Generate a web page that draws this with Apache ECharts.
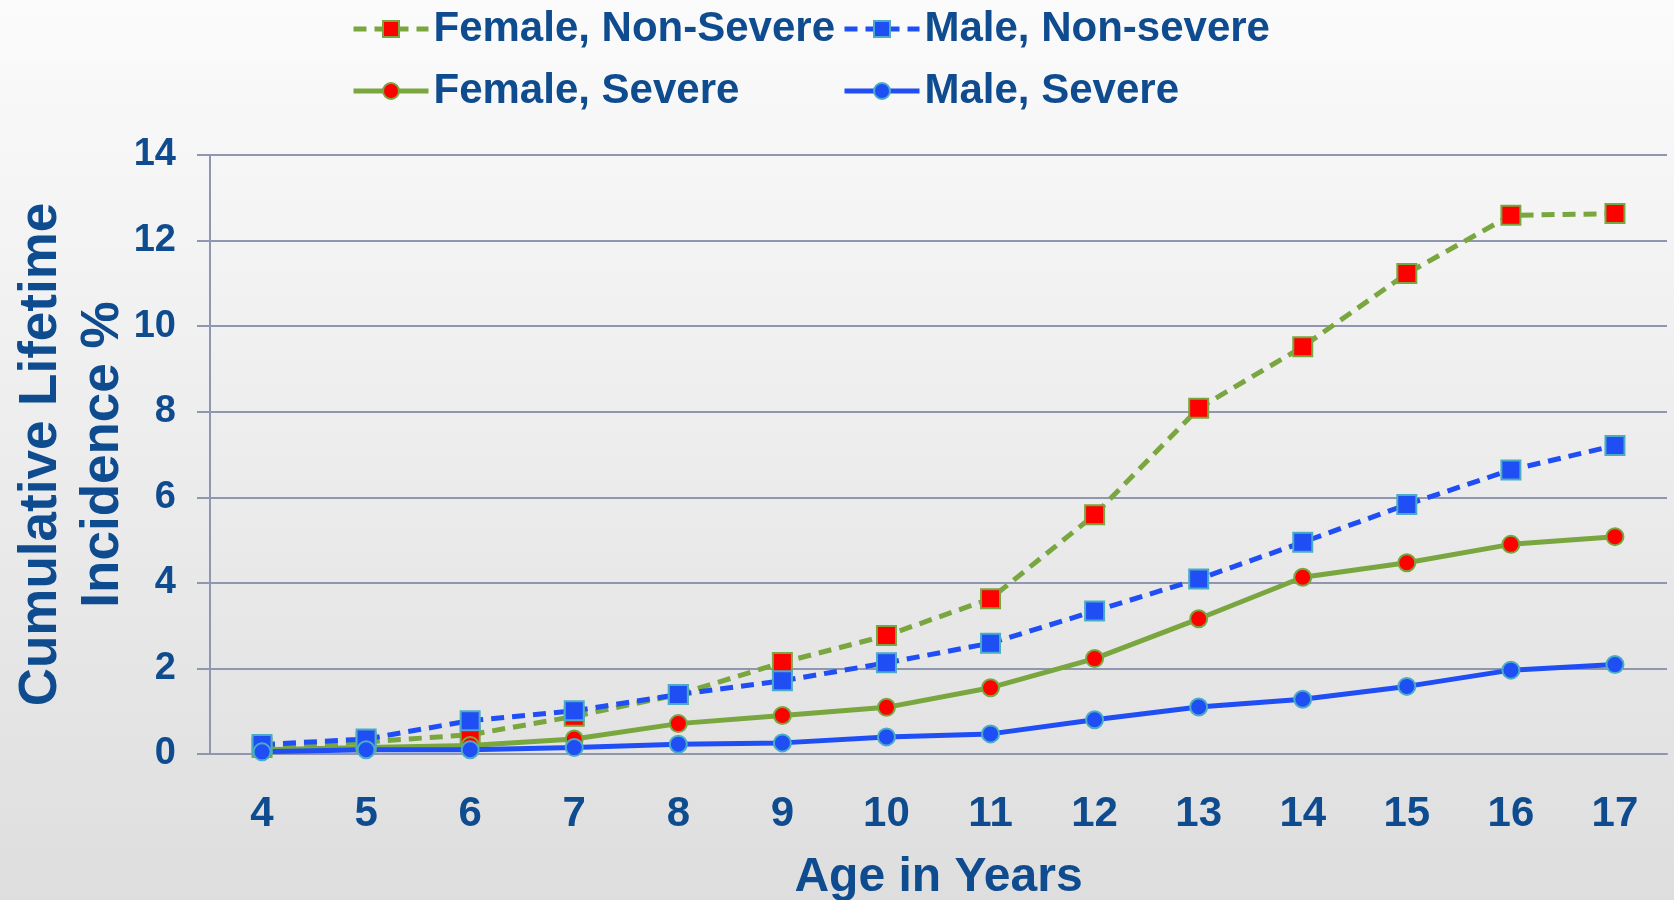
<!DOCTYPE html>
<html>
<head>
    <meta charset="UTF-8">
    <title>Cumulative Lifetime Incidence</title>
    <script src="https://cdn.jsdelivr.net/npm/echarts@6/dist/echarts.min.js"></script>
    <style>
        html, body { margin: 0; padding: 0; }
        #chart { width: 1674px; height: 900px; }
    </style>
</head>
<body>
    <div id="chart"></div>

    <script>
        const ages = ['4', '5', '6', '7', '8', '9', '10', '11', '12', '13', '14', '15', '16', '17'];
        const femaleNonSevere = [0.15, 0.28, 0.45, 0.88, 1.39, 2.14, 2.77, 3.63, 5.59, 8.08, 9.52, 11.23, 12.59, 12.63];
        const maleNonSevere = [0.22, 0.35, 0.78, 1.01, 1.39, 1.71, 2.13, 2.59, 3.34, 4.09, 4.95, 5.83, 6.64, 7.21];
        const femaleSevere = [0.10, 0.15, 0.20, 0.35, 0.71, 0.90, 1.09, 1.55, 2.23, 3.16, 4.13, 4.47, 4.90, 5.08];
        const maleSevere = [0.05, 0.10, 0.10, 0.15, 0.23, 0.26, 0.40, 0.47, 0.80, 1.10, 1.28, 1.58, 1.96, 2.09];

        const textColor = '#0f4b8f';
        const green = '#7aa63f';
        const blue = '#1f4ef5';
        const font = '"Liberation Sans", Arial, sans-serif';

        const chart = echarts.init(document.getElementById('chart'));

        function legendAt(name, left, top) {
            return {
                data: [name],
                left: left,
                top: top,
                itemWidth: 75,
                itemHeight: 20,
                lineStyle: { width: 5 },
                textStyle: { color: textColor, fontSize: 42, fontWeight: 'bold', fontFamily: font }
            };
        }

        function makeSeries(name, values, dashed, symbol, lineColor, fill, border, size) {
            return {
                name: name,
                type: 'line',
                data: values,
                symbol: symbol,
                symbolSize: size,
                lineStyle: { color: lineColor, width: 5, type: dashed ? [13, 8] : 'solid' },
                itemStyle: { color: fill, borderColor: border, borderWidth: 2 }
            };
        }

        const option = {
            backgroundColor: new echarts.graphic.LinearGradient(0, 0, 0, 1, [
                { offset: 0, color: '#fbfbfb' },
                { offset: 1, color: '#dedede' }
            ]),
            animation: false,
            legend: [
                legendAt('Female, Non-Severe', 346, 3),
                legendAt('Male, Non-severe', 837, 3),
                legendAt('Female, Severe', 346, 65),
                legendAt('Male, Severe', 837, 65)
            ],
            grid: { left: 210, right: 7, top: 155, bottom: 146, containLabel: false, outerBoundsMode: 'none' },
            xAxis: {
                type: 'category',
                data: ages,
                name: 'Age in Years',
                nameLocation: 'middle',
                nameGap: 100,
                nameMoveOverlap: false,
                nameTextStyle: { color: textColor, fontSize: 48, fontWeight: 'bold', fontFamily: font },
                axisLine: { lineStyle: { color: '#8e96b0', width: 2 } },
                axisTick: { length: 11, lineStyle: { color: '#8e96b0', width: 2 } },
                axisLabel: { color: textColor, fontSize: 42, fontWeight: 'bold', fontFamily: font, margin: 39 }
            },
            yAxis: {
                type: 'value',
                min: 0,
                max: 14,
                interval: 2,
                name: 'Cumulative Lifetime\nIncidence %',
                nameLocation: 'middle',
                nameRotate: 90,
                nameGap: 76,
                nameMoveOverlap: false,
                nameTextStyle: { color: textColor, fontSize: 53, fontWeight: 'bold', fontFamily: font, lineHeight: 62 },
                axisLine: { show: true, lineStyle: { color: '#8e96b0', width: 2 } },
                axisTick: { show: true, length: 13, lineStyle: { color: '#8e96b0', width: 2 } },
                axisLabel: { color: textColor, fontSize: 38, fontWeight: 'bold', fontFamily: font, margin: 34 },
                splitLine: { lineStyle: { color: '#8e96b0', width: 2 } }
            },
            series: [
                makeSeries('Female, Non-Severe', femaleNonSevere, true, 'rect', green, '#ff0000', green, 19),
                makeSeries('Female, Severe', femaleSevere, false, 'circle', green, '#ff0000', green, 17),
                makeSeries('Male, Non-severe', maleNonSevere, true, 'rect', blue, blue, '#4bacc6', 19),
                makeSeries('Male, Severe', maleSevere, false, 'circle', blue, blue, '#4bacc6', 17)
            ]
        };

        chart.setOption(option);
    </script>
</body>
</html>
